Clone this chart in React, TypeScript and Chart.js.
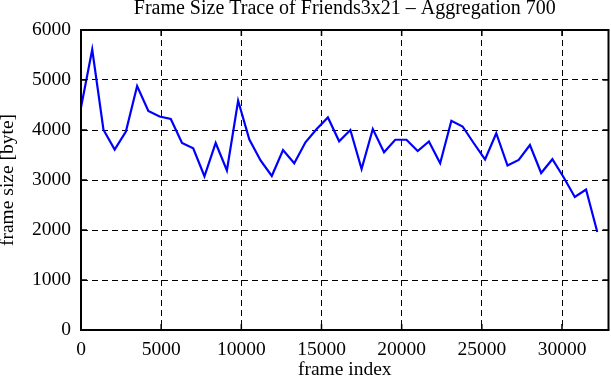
import React, { useEffect, useRef } from 'react';
import { Chart, registerables } from 'chart.js';

Chart.register(...registerables);

const frameIndex = [
  0, 700, 1400, 2100, 2800, 3500, 4200, 4900, 5600, 6300,
  7000, 7700, 8400, 9100, 9800, 10500, 11200, 11900, 12600, 13300,
  14000, 14700, 15400, 16100, 16800, 17500, 18200, 18900, 19600, 20300,
  21000, 21700, 22400, 23100, 23800, 24500, 25200, 25900, 26600, 27300,
  28000, 28700, 29400, 30100, 30800, 31500, 32200,
];

const frameSize = [
  4450, 5610, 4005, 3610, 3970, 4880, 4380, 4270, 4220, 3740,
  3635, 3075, 3740, 3190, 4585, 3810, 3390, 3080, 3600, 3335,
  3755, 4020, 4250, 3775, 4000, 3220, 4020, 3555, 3805, 3805,
  3580, 3770, 3335, 4185, 4070, 3735, 3410, 3935, 3290, 3400,
  3700, 3140, 3415, 3055, 2660, 2810, 1960,
];

const xTickValues = [0, 5000, 10000, 15000, 20000, 25000, 30000];
const yTickValues = [0, 1000, 2000, 3000, 4000, 5000, 6000];

const X_MAX = 32900;
const FONT = '"Liberation Serif", "Times New Roman", serif';

const frameBox = {
  id: 'frameBox',
  afterDraw(chart: any) {
    const { ctx, chartArea } = chart;
    const xs = chart.scales.x;
    const ys = chart.scales.y;
    ctx.save();
    ctx.strokeStyle = '#000';
    ctx.lineWidth = 1.5;
    ctx.setLineDash([]);
    const tl = 6;
    xTickValues.forEach((v) => {
      const px = xs.getPixelForValue(v);
      ctx.beginPath();
      ctx.moveTo(px, chartArea.bottom);
      ctx.lineTo(px, chartArea.bottom - tl);
      ctx.moveTo(px, chartArea.top);
      ctx.lineTo(px, chartArea.top + tl);
      ctx.stroke();
    });
    yTickValues.forEach((v) => {
      const py = ys.getPixelForValue(v);
      ctx.beginPath();
      ctx.moveTo(chartArea.left, py);
      ctx.lineTo(chartArea.left + tl, py);
      ctx.moveTo(chartArea.right, py);
      ctx.lineTo(chartArea.right - tl, py);
      ctx.stroke();
    });
    ctx.lineWidth = 2;
    ctx.strokeRect(
      chartArea.left,
      chartArea.top,
      chartArea.right - chartArea.left,
      chartArea.bottom - chartArea.top
    );
    ctx.restore();
  },
};

export default function App() {
  const ref = useRef<HTMLCanvasElement | null>(null);

  useEffect(() => {
    if (!ref.current) return;
    const chart = new Chart(ref.current, {
      type: 'line',
      data: {
        datasets: [
          {
            data: frameIndex.map((x, i) => ({ x, y: frameSize[i] })),
            borderColor: '#0000ff',
            borderWidth: 2.2,
            pointRadius: 0,
            tension: 0,
            fill: false,
          },
        ],
      },
      options: {
        responsive: false,
        animation: false,
        events: [],
        layout: { padding: { left: 0, right: 2.5, top: 0, bottom: 0 } },
        plugins: {
          legend: { display: false },
          tooltip: { enabled: false },
          title: {
            display: true,
            text: 'Frame Size Trace of Friends3x21 \u2013 Aggregation 700',
            fullSize: false,
            color: '#000',
            font: { family: FONT, size: 20, weight: 'normal', lineHeight: 0.85 },
            padding: { top: 0, bottom: 13 },
          },
        },
        scales: {
          x: {
            type: 'linear',
            min: 0,
            max: X_MAX,
            afterBuildTicks: (s: any) => {
              s.ticks = xTickValues.map((v) => ({ value: v }));
            },
            afterFit: (s: any) => {
              s.height = 50;
            },
            ticks: {
              color: '#000',
              font: { family: FONT, size: 19.5 },
              padding: 8,
              maxRotation: 0,
              autoSkip: false,
              callback: (v: any) => String(v),
            },
            grid: {
              color: '#000',
              lineWidth: 1,
              drawTicks: false,
            },
            border: { display: true, color: '#000', width: 2, dash: [6, 4] },
            title: {
              display: true,
              text: 'frame index',
              color: '#000',
              font: { family: FONT, size: 19.5, lineHeight: 1.0 },
              padding: { top: 0, bottom: 0 },
            },
          },
          y: {
            type: 'linear',
            min: 0,
            max: 6000,
            afterBuildTicks: (s: any) => {
              s.ticks = yTickValues.map((v) => ({ value: v }));
            },
            afterFit: (s: any) => {
              s.width = 81;
            },
            ticks: {
              color: '#000',
              font: { family: FONT, size: 19.5 },
              padding: 10,
              autoSkip: false,
              callback: (v: any) => String(v),
            },
            grid: {
              color: '#000',
              lineWidth: 1,
              drawTicks: false,
            },
            border: { display: true, color: '#000', width: 2, dash: [6, 4] },
            title: {
              display: true,
              text: 'frame size [byte]',
              color: '#000',
              font: { family: FONT, size: 19.5, lineHeight: 0.85 },
              padding: { top: 0, bottom: 0 },
            },
          },
        },
      },
      plugins: [frameBox],
    } as any);
    return () => chart.destroy();
  }, []);

  return (
    <div style={{ position: 'absolute', left: 0, top: 0, width: 611, height: 380 }}>
      <canvas ref={ref} width={611} height={380} />
    </div>
  );
}
